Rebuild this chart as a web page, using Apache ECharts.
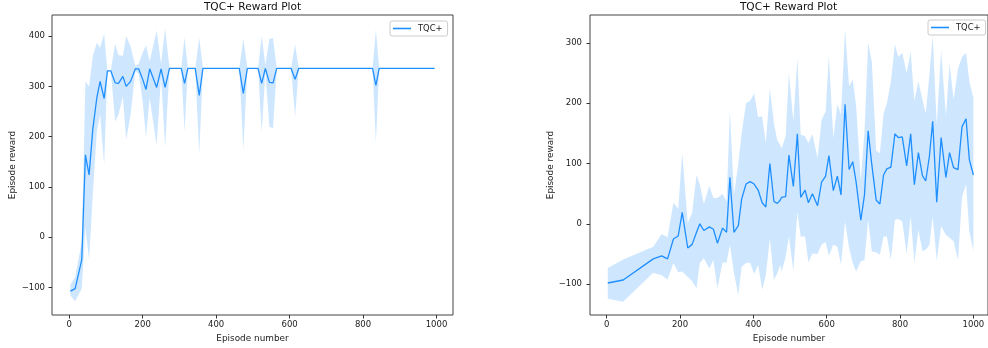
<!DOCTYPE html>
<html><head><meta charset="utf-8">
<script src="https://cdn.jsdelivr.net/npm/echarts@6/dist/echarts.min.js"></script>
<style>html,body{margin:0;padding:0;background:#fff}#c{width:988px;height:348px}</style>
</head><body><div id="c"></div>
<script>
// ---- Left panel data ----
const epA   = [3,16,34,44,54,64,75,84,95,104,113,125,134,146,155,167,180,189,200,209,219,238,250,261,273,305,314,323,343,354,364,463,474,485,514,524,534,545,555,565,604,615,625,826,835,844,995];
const meanA = [-107,-102,-45,164,124,214,277,310,276,331,331,307,306,320,300,310,335,335,314,294,335,298,335,298,336,336,306,336,336,282,336,336,286,336,336,306,336,308,307,336,336,314,336,336,302,336,336];
const lowA  = [-115,-127,-102,18,-45,84,210,244,144,331,331,230,244,280,194,244,330,325,270,200,277,183,320,179,336,336,210,336,336,165,336,336,174,336,336,209,330,220,217,336,336,240,336,336,187,336,336];
const upA   = [-95,-79,-9,310,300,360,387,377,405,331,331,385,362,361,400,380,340,345,367,382,350,411,345,415,336,336,398,336,336,397,336,336,395,336,336,400,342,395,396,336,336,383,336,336,413,336,336];
// ---- Right panel data ----
const epB   = [3,45,127,150,166,182,195,206,221,233,245,254,265,280,291,302,316,327,336,347,359,368,380,391,402,413,424,434,445,456,465,473,477,488,497,509,520,529,541,550,561,575,586,597,606,618,629,639,650,661,671,680,693,703,713,723,735,745,755,764,775,786,795,806,818,829,839,850,861,870,880,889,900,912,925,935,946,958,969,980,989,1000];
const meanB = [-98,-93,-58,-53,-58,-25,-20,19,-40,-34,-14,0,-11,-5,-9,-32,-7,-14,77,-14,-3,41,66,70,66,56,35,28,100,37,34,39,44,45,114,62,149,44,56,35,50,30,69,79,113,55,79,48,198,90,103,70,6,48,154,98,39,33,81,91,94,149,143,144,96,149,65,118,80,71,112,170,36,143,77,118,93,90,161,174,106,81];
const lowB  = [-124,-129,-81,-85,-92,-65,-80,-79,-88,-95,-107,-65,-57,-74,-60,-107,-64,-64,-35,-82,-118,-71,-65,-64,-83,-68,-109,-85,-24,-93,-82,-68,-79,-55,-21,-78,20,-21,-21,-64,-49,-50,-34,-30,-53,-34,-38,-68,4,-40,-65,-79,-62,-60,7,-46,-47,-51,-21,-21,-60,7,8,4,-50,12,-65,-10,-45,-43,-35,12,-61,-4,-18,-23,-29,-60,45,65,-13,-45];
const upB   = [-73,-59,-38,-17,-22,35,25,117,2,18,81,65,33,63,43,43,50,37,189,48,101,150,200,204,216,177,178,134,225,167,139,131,125,145,250,170,275,148,145,134,149,109,172,186,279,142,198,181,323,228,239,197,73,153,299,269,121,117,183,200,236,297,277,283,250,285,204,236,206,183,247,312,164,288,178,266,206,257,277,283,236,208];
// ---- Tick labels ----
const xTicks  = [0,200,400,600,800,1000];
const yTicksA = [-100,0,100,200,300,400];
const yTicksB = [-100,0,100,200,300];

const LINE = '#1f8fff';
const BAND = 'rgba(30,144,255,0.22)';
const FONT = 'DejaVu Sans';
const minus = v => String(v).replace('-', '\u2212');

function bandSeries(idx, ep, low, up) {
  return {
    type: 'custom', name: 'band' + idx, xAxisIndex: idx, yAxisIndex: idx, z: 1,
    data: ep.map((x, i) => [x, low[i], up[i]]),
    encode: { x: 0, y: [1, 2] },
    renderItem: function (params, api) {
      if (params.dataIndex !== 0) return;
      const pts = [];
      for (let i = 0; i < ep.length; i++) pts.push(api.coord([ep[i], up[i]]));
      for (let i = ep.length - 1; i >= 0; i--) pts.push(api.coord([ep[i], low[i]]));
      return { type: 'polygon', shape: { points: pts }, style: { fill: BAND, stroke: null } };
    }
  };
}
function lineSeries(idx, ep, mean) {
  return {
    type: 'line', name: 'TQC+', xAxisIndex: idx, yAxisIndex: idx, z: 3,
    data: ep.map((x, i) => [x, mean[i]]),
    showSymbol: false, symbol: 'none', animation: false,
    lineStyle: { width: 1.3, color: LINE }, itemStyle: { color: LINE }
  };
}
function xAx(idx, min, max) {
  return {
    type: 'value', gridIndex: idx, min: min, max: max, position: 'bottom',
    axisLine: { show: false, onZero: false }, splitLine: { show: false },
    axisTick: { show: true, customValues: xTicks, length: 3.5, lineStyle: { color: '#333' } },
    axisLabel: { customValues: xTicks, fontSize: 8.5, fontFamily: FONT, color: '#222', margin: 5, formatter: minus },
    name: 'Episode number', nameLocation: 'middle', nameGap: 18,
    nameTextStyle: { fontSize: 8.9, fontFamily: FONT, color: '#222' }
  };
}
function yAx(idx, min, max, ticks, margin, gap) {
  return {
    type: 'value', gridIndex: idx, min: min, max: max, position: 'left',
    axisLine: { show: false, onZero: false }, splitLine: { show: false },
    axisTick: { show: true, customValues: ticks, length: 3.5, lineStyle: { color: '#333' } },
    axisLabel: { customValues: ticks, fontSize: 8.5, fontFamily: FONT, color: '#222', margin: margin, formatter: minus },
    name: 'Episode reward', nameLocation: 'middle', nameGap: gap, nameRotate: 90,
    nameTextStyle: { fontSize: 8.9, fontFamily: FONT, color: '#222' }
  };
}
function legend(left, top) {
  return {
    data: ['TQC+'], left: left, top: top, orient: 'horizontal',
    icon: 'rect', itemWidth: 18, itemHeight: 1.6,
    backgroundColor: '#fff', borderColor: '#ccc', borderWidth: 1, borderRadius: 2,
    padding: [2, 5, 2, 3], selectedMode: false,
    textStyle: { fontSize: 8.4, fontFamily: FONT, color: '#222', lineHeight: 11, padding: [0, 0, 0, 2] }
  };
}
function title(cx) {
  return {
    text: 'TQC+ Reward Plot', left: cx, top: 1.5, textAlign: 'center', padding: 0,
    textStyle: { fontSize: 10.6, fontWeight: 'normal', fontFamily: FONT, color: '#111' }
  };
}

const chart = echarts.init(document.getElementById('c'), null, { renderer: 'canvas' });
chart.setOption({
  animation: false,
  backgroundColor: '#fff',
  title: [title(252.5), title(788.5)],
  legend: [legend(390, 21), legend(928, 20)],
  grid: [
    { left: 52, top: 15, width: 401, height: 300, show: true, borderColor: '#444', borderWidth: 1, backgroundColor: 'transparent' },
    { left: 590, top: 15, width: 398, height: 300, show: true, borderColor: '#444', borderWidth: 1, backgroundColor: 'transparent' }
  ],
  xAxis: [xAx(0, -47, 1045), xAx(1, -45.5, 1039.8)],
  yAxis: [yAx(0, -154.5, 442, yTicksA, 7, 35), yAx(1, -151, 346, yTicksB, 8, 35)],
  series: [
    bandSeries(0, epA, lowA, upA), lineSeries(0, epA, meanA),
    bandSeries(1, epB, lowB, upB), lineSeries(1, epB, meanB)
  ]
});
</script></body></html>
